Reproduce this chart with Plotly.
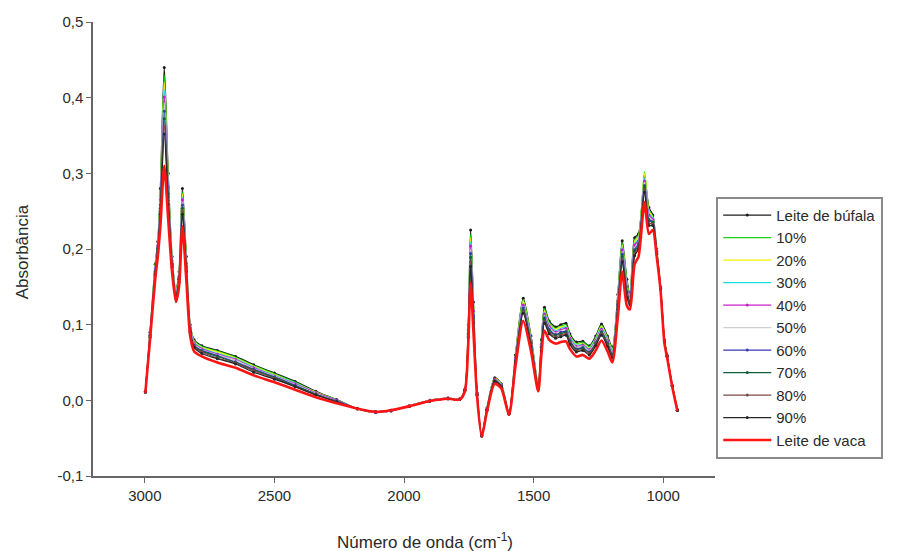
import plotly.graph_objects as go

# Wavenumber grid (cm-1) shared by all spectra
wavenumber = [2998, 2980, 2960, 2950, 2940, 2925, 2910, 2895, 2880, 2868, 2855, 2840,
              2825, 2810, 2780, 2720, 2650, 2580, 2500, 2420, 2340, 2260, 2180, 2110,
              2050, 1980, 1900, 1830, 1785, 1765, 1752, 1743, 1732, 1718, 1700, 1680,
              1650, 1625, 1595, 1570, 1540, 1510, 1482, 1470, 1458, 1440, 1415, 1395,
              1375, 1360, 1335, 1310, 1285, 1260, 1238, 1215, 1196, 1175, 1158, 1140,
              1128, 1110, 1095, 1072, 1055, 1040, 1025, 1010, 995, 985, 965, 945]

# Absorbance spectra
bufala = [.012, .090, .180, .210, .280, .440, .300, .190, .145, .170, .280, .190, .100, .080, .072, .066, .058, .047, .036, .025, .012, .001, -.011, -.016, -.014, -.007, .000, .003, .002, .015, .100, .225, .130, .010, -.045, -.010, .030, .022, -.016, .060, .135, .085, .020, .080, .123, .105, .097, .100, .102, .088, .077, .078, .072, .085, .101, .085, .070, .140, .211, .160, .140, .215, .220, .295, .255, .245, .200, .150, .080, .060, .020, -.012]
p10 = [.012, .089, .178, .208, .276, .430, .295, .188, .144, .168, .276, .188, .099, .079, .071, .065, .057, .046, .035, .024, .011, .001, -.011, -.016, -.014, -.007, .000, .003, .002, .015, .098, .219, .127, .010, -.045, -.010, .029, .022, -.016, .059, .133, .083, .019, .078, .121, .103, .095, .098, .100, .086, .075, .077, .071, .083, .099, .083, .068, .138, .208, .157, .138, .212, .218, .302, .252, .243, .199, .150, .080, .060, .020, -.012]
p20 = [.012, .089, .177, .207, .273, .421, .291, .187, .143, .167, .273, .186, .098, .078, .070, .064, .056, .045, .034, .023, .011, .000, -.011, -.016, -.014, -.007, .000, .003, .002, .015, .096, .215, .124, .009, -.045, -.011, .029, .021, -.016, .058, .131, .082, .019, .077, .118, .101, .094, .097, .098, .085, .074, .075, .069, .082, .098, .082, .067, .136, .205, .155, .137, .210, .216, .300, .250, .242, .199, .149, .079, .060, .020, -.012]
p30 = [.012, .088, .176, .206, .269, .411, .287, .186, .142, .166, .269, .183, .097, .077, .069, .062, .055, .044, .033, .023, .010, .000, -.011, -.016, -.014, -.007, .000, .003, .002, .014, .095, .210, .121, .009, -.046, -.011, .028, .021, -.017, .057, .128, .081, .018, .076, .116, .100, .092, .095, .097, .084, .073, .074, .068, .081, .096, .081, .066, .133, .202, .152, .136, .207, .213, .293, .247, .241, .198, .149, .079, .059, .020, -.012]
p40 = [.011, .087, .174, .204, .265, .401, .282, .184, .141, .164, .265, .181, .096, .076, .068, .061, .054, .043, .032, .022, .010, .000, -.011, -.016, -.014, -.007, .000, .003, .002, .014, .093, .204, .118, .009, -.046, -.012, .028, .020, -.017, .056, .126, .079, .018, .074, .114, .098, .090, .093, .095, .082, .071, .073, .067, .079, .094, .079, .064, .131, .199, .150, .134, .205, .211, .290, .245, .239, .197, .149, .079, .059, .019, -.013]
p50 = [.011, .086, .173, .203, .262, .393, .278, .183, .140, .163, .262, .179, .095, .075, .067, .060, .053, .042, .032, .021, .009, -.001, -.011, -.016, -.014, -.007, .000, .003, .002, .014, .091, .200, .116, .008, -.046, -.012, .027, .020, -.017, .055, .124, .078, .017, .073, .112, .096, .089, .092, .093, .081, .070, .072, .066, .078, .093, .078, .063, .129, .196, .147, .133, .202, .209, .288, .242, .238, .196, .148, .078, .059, .019, -.013]
p60 = [.011, .086, .171, .201, .258, .382, .273, .181, .138, .161, .258, .177, .093, .073, .066, .059, .051, .041, .031, .020, .008, -.001, -.011, -.015, -.013, -.008, -.001, .002, .001, .014, .089, .194, .112, .008, -.046, -.012, .026, .019, -.017, .053, .122, .076, .016, .071, .109, .094, .087, .090, .091, .079, .068, .070, .064, .076, .091, .076, .061, .127, .193, .144, .131, .199, .207, .284, .239, .236, .196, .148, .078, .059, .019, -.013]
p70 = [.011, .085, .170, .200, .254, .372, .269, .180, .137, .160, .254, .174, .092, .072, .065, .058, .050, .040, .030, .019, .008, -.002, -.011, -.015, -.013, -.008, -.001, .002, .001, .013, .087, .189, .109, .007, -.047, -.013, .026, .019, -.018, .052, .119, .075, .016, .070, .107, .092, .086, .088, .090, .078, .067, .069, .063, .075, .090, .075, .060, .124, .190, .142, .130, .197, .204, .281, .237, .235, .195, .147, .077, .058, .019, -.013]
p80 = [.011, .084, .168, .198, .250, .362, .264, .178, .136, .158, .250, .172, .091, .071, .064, .056, .049, .039, .029, .018, .007, -.002, -.011, -.015, -.013, -.008, -.001, .002, .001, .013, .085, .183, .106, .007, -.047, -.013, .025, .018, -.018, .051, .117, .073, .015, .068, .104, .090, .084, .086, .088, .076, .066, .067, .062, .074, .088, .073, .058, .122, .186, .139, .128, .194, .202, .279, .234, .233, .194, .147, .077, .058, .019, -.013]
p90 = [.011, .083, .166, .196, .246, .352, .259, .176, .135, .156, .246, .170, .090, .070, .062, .055, .048, .037, .028, .018, .007, -.002, -.011, -.015, -.013, -.008, -.001, .002, .001, .013, .083, .177, .103, .007, -.047, -.013, .025, .018, -.018, .050, .115, .071, .015, .066, .102, .088, .082, .084, .086, .074, .064, .066, .060, .072, .086, .071, .056, .120, .183, .136, .126, .191, .200, .275, .231, .231, .193, .147, .077, .058, .019, -.013]
vaca = [.010, .080, .160, .190, .230, .310, .240, .170, .130, .150, .230, .160, .085, .065, .058, .050, .043, .033, .024, .014, .004, -.004, -.011, -.015, -.013, -.008, -.001, .002, .001, .012, .075, .155, .090, .005, -.048, -.015, .022, .016, -.019, .045, .105, .065, .012, .060, .092, .080, .075, .077, .078, .068, .058, .060, .055, .066, .079, .065, .050, .110, .170, .125, .120, .180, .190, .262, .220, .225, .190, .145, .075, .057, .018, -.014]

series_names = ["Leite de búfala", "10%", "20%", "30%", "40%", "50%",
                "60%", "70%", "80%", "90%", "Leite de vaca"]
series_values = [bufala, p10, p20, p30, p40, p50, p60, p70, p80, p90, vaca]

x_ticks = [3000, 2500, 2000, 1500, 1000]
y_ticks = [-0.1, 0.0, 0.1, 0.2, 0.3, 0.4, 0.5]
y_tick_labels = ["-0,1", "0,0", "0,1", "0,2", "0,3", "0,4", "0,5"]

# line colour, line width, marker shown
styles = [
    ("#1c1c1c", 1.3, True),
    ("#19d219", 1.2, False),
    ("#f2f200", 1.2, False),
    ("#19dede", 1.2, False),
    ("#c81ec8", 1.2, True),
    ("#cfcfcf", 1.2, False),
    ("#3a3ab4", 1.2, True),
    ("#0f5f3c", 1.2, True),
    ("#7d4848", 1.2, True),
    ("#262626", 1.2, True),
    ("#ff1414", 2.6, False),
]

FONT = "Liberation Sans, Arial, sans-serif"
fig = go.Figure()
for i, (name, vals) in enumerate(zip(series_names, series_values)):
    color, width, marker = styles[i]
    fig.add_trace(go.Scatter(
        x=wavenumber, y=vals, name=name, legendgroup=name,
        mode="lines+markers" if marker else "lines",
        line=dict(color=color, width=width, shape="spline", smoothing=0.7),
        marker=dict(size=3, color=color),
    ))

fig.update_layout(
    width=897, height=551,
    margin=dict(l=93, r=182, t=22, b=75),
    paper_bgcolor="white", plot_bgcolor="white",
    font=dict(family=FONT, size=15, color="#2a2a2a"),
    showlegend=True,
    legend=dict(
        x=1.002, y=0.615, xanchor="left", yanchor="top",
        bgcolor="white", bordercolor="#8a8a8a", borderwidth=2,
        font=dict(family=FONT, size=15, color="#2a2a2a"),
        tracegroupgap=0, itemwidth=48,
    ),
    xaxis=dict(
        range=[3200, 800], tickvals=x_ticks, ticks="outside", ticklen=5,
        tickcolor="#666", showline=True, linecolor="#666", linewidth=1.5,
        showgrid=False, zeroline=False, tickfont=dict(size=15),
    ),
    yaxis=dict(
        range=[-0.1, 0.5], tickvals=y_ticks, ticktext=y_tick_labels,
        ticks="outside", ticklen=5, tickcolor="#666", showline=True,
        linecolor="#666", linewidth=1.5, showgrid=False, zeroline=False,
        tickfont=dict(size=15),
    ),
    annotations=[
        dict(text="Número de onda (cm<sup>-1</sup>)", xref="paper", yref="paper",
             x=0.534, y=-0.143, xanchor="center", yanchor="middle",
             showarrow=False, font=dict(size=17)),
        dict(text="Absorbância", xref="paper", yref="paper", x=-0.114, y=0.493,
             xanchor="center", yanchor="middle", textangle=-90,
             showarrow=False, font=dict(size=17)),
    ],
)

fig.write_html("out.html")
